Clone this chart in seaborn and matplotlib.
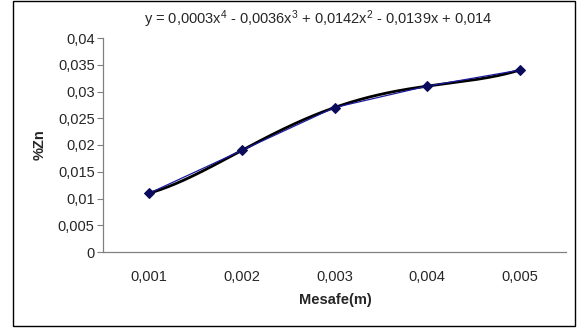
import numpy as np
import pandas as pd
import matplotlib
matplotlib.use("Agg")
import matplotlib.pyplot as plt
from matplotlib.patches import Rectangle
import seaborn as sns

# Measured zinc fraction along the distance
distance_labels = ["0,001", "0,002", "0,003", "0,004", "0,005"]
zn_values = [0.011, 0.019, 0.027, 0.031, 0.034]
y_ticks = [0, 0.005, 0.01, 0.015, 0.02, 0.025, 0.03, 0.035, 0.04]
equation = (r"y = 0,0003x$^{4}$ - 0,0036x$^{3}$ + 0,0142x$^{2}$ - 0,0139x + 0,014")

sns.set_theme(style="white")
plt.rcParams["font.family"] = ["Liberation Sans", "DejaVu Sans"]
plt.rcParams["mathtext.fontset"] = "custom"
plt.rcParams["mathtext.rm"] = "Liberation Sans"
plt.rcParams["mathtext.it"] = "Liberation Sans"

FS = 10.5

df = pd.DataFrame({"pos": np.arange(len(zn_values)), "zn": zn_values})

# 4th-order polynomial trendline through the measurements
coef = np.polyfit(df["pos"], df["zn"], 4)
xs = np.linspace(0, len(zn_values) - 1, 200)
trend = pd.DataFrame({"pos": xs, "zn": np.polyval(coef, xs)})

fig = plt.figure(figsize=(5.79, 3.29), dpi=100)
ax = fig.add_axes([103 / 579, 1 - 252 / 329, (566 - 103) / 579, (252 - 38) / 329])

sns.lineplot(data=df, x="pos", y="zn", ax=ax, color="#1a1aa0", lw=0.9,
             marker="D", markersize=5, markerfacecolor="#0b0b5e",
             markeredgecolor="#0b0b5e", zorder=3)
sns.lineplot(data=trend, x="pos", y="zn", ax=ax, color="black", lw=2.0, zorder=2)

ax.set_xlim(-0.5, len(zn_values) - 0.5)
ax.set_ylim(0, 0.04)
ax.set_yticks(y_ticks)
ax.set_yticklabels([("%g" % v).replace(".", ",") for v in y_ticks], fontsize=FS)
ax.set_xticks(np.arange(len(zn_values)))
ax.set_xticklabels(distance_labels, fontsize=FS)
ax.set_xticks(np.arange(len(zn_values) + 1) - 0.5, minor=True)
ax.tick_params(axis="x", which="major", length=0, pad=13)
ax.tick_params(axis="x", which="minor", length=4, width=0.8, color="#808080", direction="out")
ax.tick_params(axis="y", length=4, width=0.8, color="#808080", direction="out", left=True, pad=2)

for side in ("top", "right"):
    ax.spines[side].set_visible(False)
for side in ("left", "bottom"):
    ax.spines[side].set_color("#808080")
    ax.spines[side].set_linewidth(0.9)

ax.set_xlabel("")
ax.set_ylabel("")
fig.text(40 / 579, 1 - 145 / 329, "%Zn", rotation=90, fontsize=FS, fontweight="bold",
         ha="center", va="center")
fig.text(335 / 579, 1 - 300 / 329, "Mesafe(m)", fontsize=FS, fontweight="bold",
         ha="center", va="center")
fig.text(318 / 579, 1 - 19 / 329, equation, fontsize=FS, ha="center", va="center")

fig.patches.append(Rectangle((12.5 / 579, 1 - 326 / 329), (575 - 12.5) / 579, 325 / 329,
                             transform=fig.transFigure, fill=False, edgecolor="black", lw=1.0))

fig.savefig("out.png", dpi=100)
